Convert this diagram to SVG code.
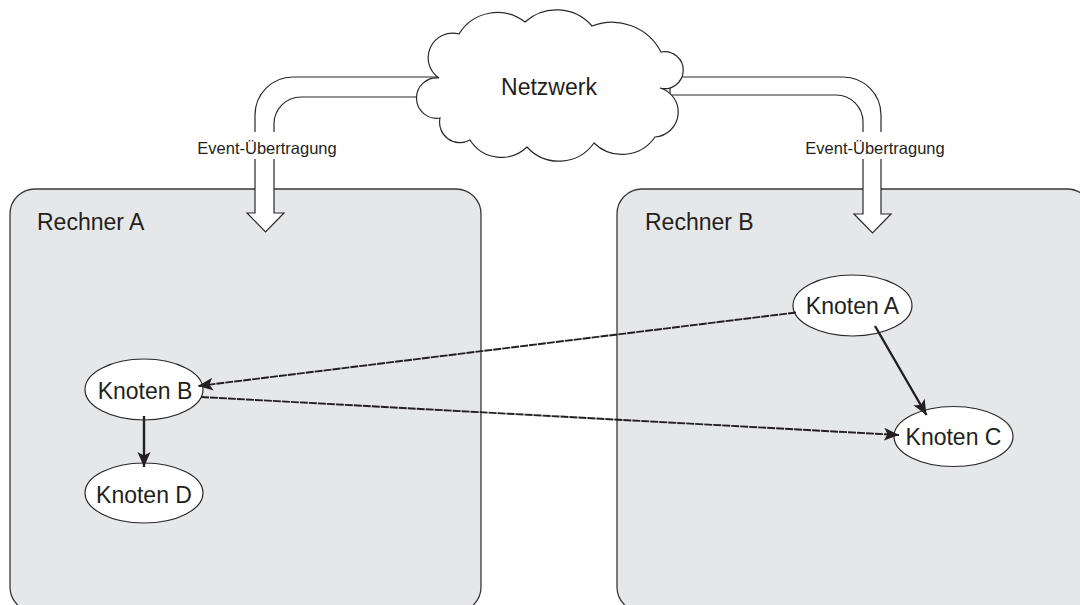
<svg xmlns="http://www.w3.org/2000/svg" width="1080" height="605" viewBox="0 0 1080 605">
  <style>
    .box { fill: #e6e7e9; stroke: #3a3738; stroke-width: 1.3; }
    .flow { fill: #ffffff; stroke: #2b2728; stroke-width: 1.2; stroke-linejoin: miter; }
    .cloud { fill: #ffffff; stroke: #2b2728; stroke-width: 1.2; }
    .node { fill: #ffffff; stroke: #2b2728; stroke-width: 1.2; }
    .t { font-family: "Liberation Sans", Arial, sans-serif; fill: #231f20; }
    .big { font-size: 23px; }
    .small { font-size: 16.5px; }
    .edge { fill: none; stroke: #231f20; }
    .solid { stroke-width: 2.4; }
    .dash { stroke-width: 1.9; stroke-dasharray: 8 1; }
  </style>
  <defs>
    <marker id="head" markerUnits="userSpaceOnUse" markerWidth="18" markerHeight="14" refX="15" refY="6.5" orient="auto">
      <path d="M0,0 L15,6.5 L0,13 L3.5,6.5 Z" fill="#231f20"/>
    </marker>
  </defs>

  <!-- computers -->
  <g id="rechner-a">
    <rect class="box" x="10" y="189" width="471" height="423" rx="25" ry="25"/>
    <text class="t big" x="37" y="230">Rechner A</text>
  </g>
  <g id="rechner-b">
    <rect class="box" x="617" y="189" width="475" height="423" rx="25" ry="25"/>
    <text class="t big" x="645" y="230">Rechner B</text>
  </g>

  <!-- event transfer arrows from the network -->
  <g id="uebertragung-a">
    <path class="flow" d="M445,77 L293,77 A38,38 0 0 0 255,115 L255,213 L247,213 L265.5,232 L284,213 L274,213 L274,124 A27,27 0 0 1 301,97 L445,97 Z"/>
    <rect x="195" y="132" width="145" height="27" fill="#ffffff"/>
    <text class="t small" x="267" y="154" text-anchor="middle">Event-Übertragung</text>
  </g>
  <g id="uebertragung-b">
    <path class="flow" d="M670,77 L843,77 A38,38 0 0 1 881,115 L881,214 L891,214 L872.5,233 L854,214 L863,214 L863,122 A27,27 0 0 0 836,95 L670,95 Z"/>
    <rect x="803" y="132" width="145" height="27" fill="#ffffff"/>
    <text class="t small" x="875" y="154" text-anchor="middle">Event-Übertragung</text>
  </g>

  <!-- network cloud -->
  <g id="netzwerk">
    <path class="cloud" d="M439,78
      A24.5,24.5 0 0 1 459,34
      A45,45 0 0 1 525,22
      A47,47 0 0 1 592,26
      A55,55 0 0 1 661,52
      A18.5,18.5 0 1 1 660,88
      A25,25 0 0 1 655,137
      A40,40 0 0 1 594,143
      A43,43 0 0 1 527,147
      A37,37 0 0 1 470,140
      A20.4,20.4 0 0 1 440,118
      A20.2,20.2 0 1 1 439,78 Z"/>
    <text class="t big" x="549" y="95" text-anchor="middle">Netzwerk</text>
  </g>

  <!-- nodes -->
  <g id="knoten-a">
    <ellipse class="node" cx="852.5" cy="305.5" rx="59.5" ry="30.5"/>
    <text class="t big" x="852.5" y="314" text-anchor="middle">Knoten A</text>
  </g>
  <g id="knoten-b">
    <ellipse class="node" cx="144" cy="389.5" rx="59" ry="30.5"/>
    <text class="t big" x="145" y="399" text-anchor="middle">Knoten B</text>
  </g>
  <g id="knoten-c">
    <ellipse class="node" cx="953.5" cy="436.5" rx="59.5" ry="30"/>
    <text class="t big" x="953.5" y="445" text-anchor="middle">Knoten C</text>
  </g>
  <g id="knoten-d">
    <ellipse class="node" cx="144" cy="493" rx="59" ry="30"/>
    <text class="t big" x="144" y="503" text-anchor="middle">Knoten D</text>
  </g>

  <!-- connectors -->
  <g id="connectors">
    <line class="edge solid" x1="144" y1="416" x2="144" y2="467" marker-end="url(#head)"/>
    <line class="edge solid" x1="875" y1="326" x2="926.5" y2="415" marker-end="url(#head)"/>
    <line class="edge dash" x1="796" y1="312.5" x2="198" y2="386" marker-end="url(#head)"/>
    <line class="edge dash" x1="201" y1="397" x2="899" y2="435" marker-end="url(#head)"/>
  </g>
</svg>
